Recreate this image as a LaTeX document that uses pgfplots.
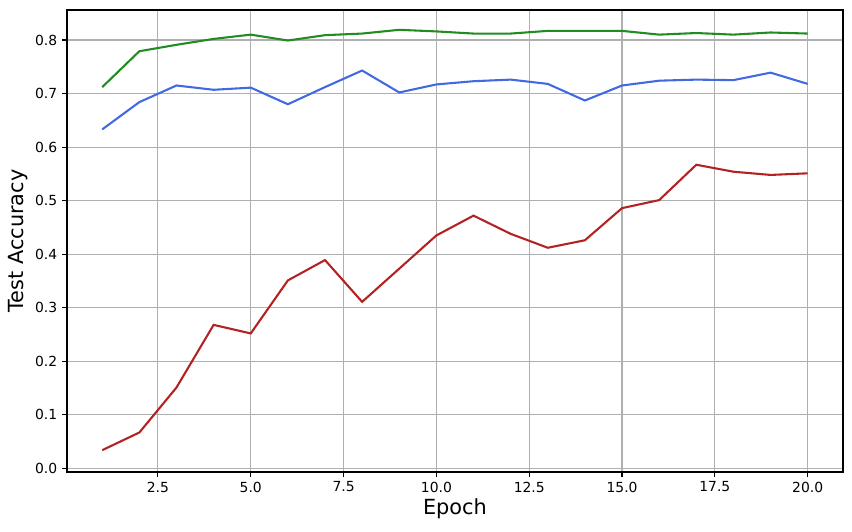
\documentclass[border=0pt]{standalone}
\usepackage{pgfplots}
\pgfplotsset{compat=1.18}
\usepackage{fontspec}
\setmainfont{DejaVu Sans}
\definecolor{mgreen}{HTML}{228B22}
\definecolor{mblue}{HTML}{4169E1}
\definecolor{mred}{HTML}{B22222}
\definecolor{mgrid}{HTML}{B0B0B0}
\begin{document}
\begin{tikzpicture}
\begin{axis}[
  name=main,
  scale only axis, width=558.7pt, height=332.6pt,
  xmin=0.05, xmax=20.95, ymin=-0.0067, ymax=0.856,
  xtick={2.5,5,...,20}, ytick={0,0.1,...,0.8},
  xticklabel style={/pgf/number format/.cd,fixed,fixed zerofill,precision=1},
  yticklabel style={/pgf/number format/.cd,fixed,fixed zerofill,precision=1},
  /pgf/number format/assume math mode=true,
  tick label style={font=\fontsize{10}{12}\selectfont},
  tick align=outside, tick pos=left, major tick length=3.5pt,
  every tick/.style={black, line width=0.8pt},
  axis line style={line width=0.8pt},
  grid=major, grid style={mgrid, line width=0.8pt},
  xlabel={Epoch}, ylabel={Test Accuracy},
  label style={font=\fontsize{15}{18}\selectfont},
  xlabel style={yshift=2pt},
  ylabel style={yshift=-2pt},
  every axis plot/.append style={line width=1.5pt, mark=none},
]
\addplot[mgreen] coordinates {
  (1,0.712) (2,0.779) (3,0.791) (4,0.802) (5,0.810) (6,0.799) (7,0.809)
  (8,0.812) (9,0.819) (10,0.816) (11,0.812) (12,0.812) (13,0.817) (14,0.817)
  (15,0.817) (16,0.810) (17,0.813) (18,0.810) (19,0.814) (20,0.812)};
\addplot[mblue] coordinates {
  (1,0.633) (2,0.684) (3,0.715) (4,0.707) (5,0.711) (6,0.680) (7,0.712)
  (8,0.743) (9,0.702) (10,0.717) (11,0.723) (12,0.726) (13,0.718) (14,0.687)
  (15,0.715) (16,0.724) (17,0.726) (18,0.725) (19,0.739) (20,0.718)};
\addplot[mred] coordinates {
  (1,0.034) (2,0.067) (3,0.151) (4,0.268) (5,0.252) (6,0.351) (7,0.389)
  (8,0.311) (9,0.373) (10,0.435) (11,0.472) (12,0.438) (13,0.412) (14,0.426)
  (15,0.486) (16,0.501) (17,0.567) (18,0.554) (19,0.548) (20,0.551)};
\end{axis}
% figure margins as in the reference
\path[use as bounding box] ([shift={(-48.2pt,-42.5pt)}]main.south west)
  rectangle ([shift={(6.5pt,7.2pt)}]main.north east);
\end{tikzpicture}
\end{document}
